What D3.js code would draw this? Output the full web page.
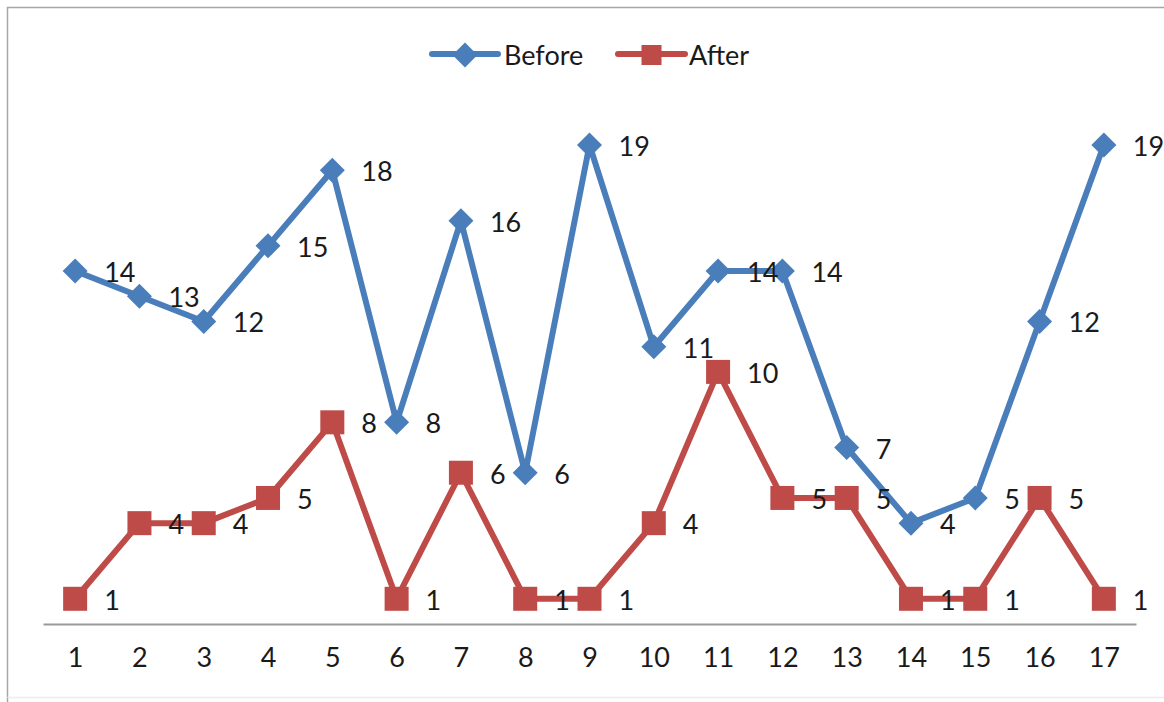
<!DOCTYPE html>
<html>
<head>
<meta charset="utf-8">
<script src="https://cdn.jsdelivr.net/npm/d3@7"></script>
<style>
  html, body { margin: 0; padding: 0; background: #fff; }
  svg { display: block; }
  text { font-family: Lato, "Open Sans", sans-serif; fill: #1a1a1a; }
</style>
</head>
<body>
<svg id="chart" width="1164" height="702"></svg>
<script>
// Trial numbers along the x axis
const categories = ["1","2","3","4","5","6","7","8","9","10","11","12","13","14","15","16","17"];
// Series values
const beforeValues = [14, 13, 12, 15, 18, 8, 16, 6, 19, 11, 14, 14, 7, 4, 5, 12, 19];
const afterValues  = [1, 4, 4, 5, 8, 1, 6, 1, 1, 4, 10, 5, 5, 1, 1, 5, 1];
const seriesNames  = ["Before", "After"];

const svg = d3.select("#chart");
const fontSize = "27px";

const colors = { Before: "#4a7ebb", After: "#be4b48" };
const series = [
  { name: seriesNames[0], values: beforeValues, shape: "diamond" },
  { name: seriesNames[1], values: afterValues,  shape: "square" }
];

// Outer frame: left and top edges, faint bottom edge
svg.append("path")
  .attr("d", "M7.5,702V7.5H1164")
  .attr("fill", "none").attr("stroke", "#a6a6a6").attr("stroke-width", 1.5);
svg.append("line")
  .attr("x1", 7.5).attr("x2", 1164).attr("y1", 697.5).attr("y2", 697.5)
  .attr("stroke", "#ececec").attr("stroke-width", 1.5);

const x = d3.scalePoint().domain(categories).range([43, 1136]).padding(0.5);
const y = d3.scaleLinear().domain([0, 20]).range([624, 119.8]);

// Category axis
const xAxis = d3.axisBottom(x).tickSize(0).tickPadding(0);
const gx = svg.append("g").attr("transform", `translate(0,${y(0)})`).call(xAxis);
gx.select(".domain").attr("stroke", "#9a9a9a").attr("stroke-width", 2);
gx.selectAll(".tick text")
  .attr("y", 43).attr("dy", null)
  .style("font-size", fontSize)
  .style("font-family", "Lato, 'Open Sans', sans-serif")
  .attr("fill", "#1a1a1a");

const line = d3.line()
  .x((d, i) => x(categories[i]))
  .y(d => y(d));

function marker(g, shape, cx, cy, color, size) {
  if (shape === "diamond") {
    const h = size / 2;
    g.append("path")
      .attr("d", `M${cx},${cy - h}L${cx + h},${cy}L${cx},${cy + h}L${cx - h},${cy}Z`)
      .attr("fill", color);
  } else {
    g.append("rect")
      .attr("x", cx - size / 2).attr("y", cy - size / 2)
      .attr("width", size).attr("height", size)
      .attr("fill", color);
  }
}

series.forEach(s => {
  const g = svg.append("g");
  g.append("path")
    .datum(s.values)
    .attr("d", line)
    .attr("fill", "none")
    .attr("stroke", colors[s.name])
    .attr("stroke-width", 6)
    .attr("stroke-linejoin", "round");
  s.values.forEach((v, i) => {
    marker(g, s.shape, x(categories[i]), y(v), colors[s.name], s.shape === "diamond" ? 25 : 24);
  });
});

// Value labels, right of each point
series.forEach(s => {
  svg.append("g").selectAll("text")
    .data(s.values)
    .join("text")
    .attr("x", (d, i) => x(categories[i]) + 29)
    .attr("y", d => y(d) + 11)
    .style("font-size", fontSize)
    .text(d => d);
});

// Legend
const legend = svg.append("g");
const legendItems = [
  { name: seriesNames[0], shape: "diamond", x0: 432, x1: 498, tx: 504 },
  { name: seriesNames[1], shape: "square",  x0: 618, x1: 685, tx: 689 }
];
legendItems.forEach(it => {
  legend.append("line")
    .attr("x1", it.x0).attr("x2", it.x1)
    .attr("y1", 54).attr("y2", 54)
    .attr("stroke", colors[it.name]).attr("stroke-width", 6)
    .attr("stroke-linecap", "round");
  marker(legend, it.shape, (it.x0 + it.x1) / 2, 55, colors[it.name], it.shape === "diamond" ? 25 : 20);
  legend.append("text")
    .attr("x", it.tx).attr("y", 65)
    .style("font-size", fontSize)
    .text(it.name);
});
</script>
</body>
</html>
